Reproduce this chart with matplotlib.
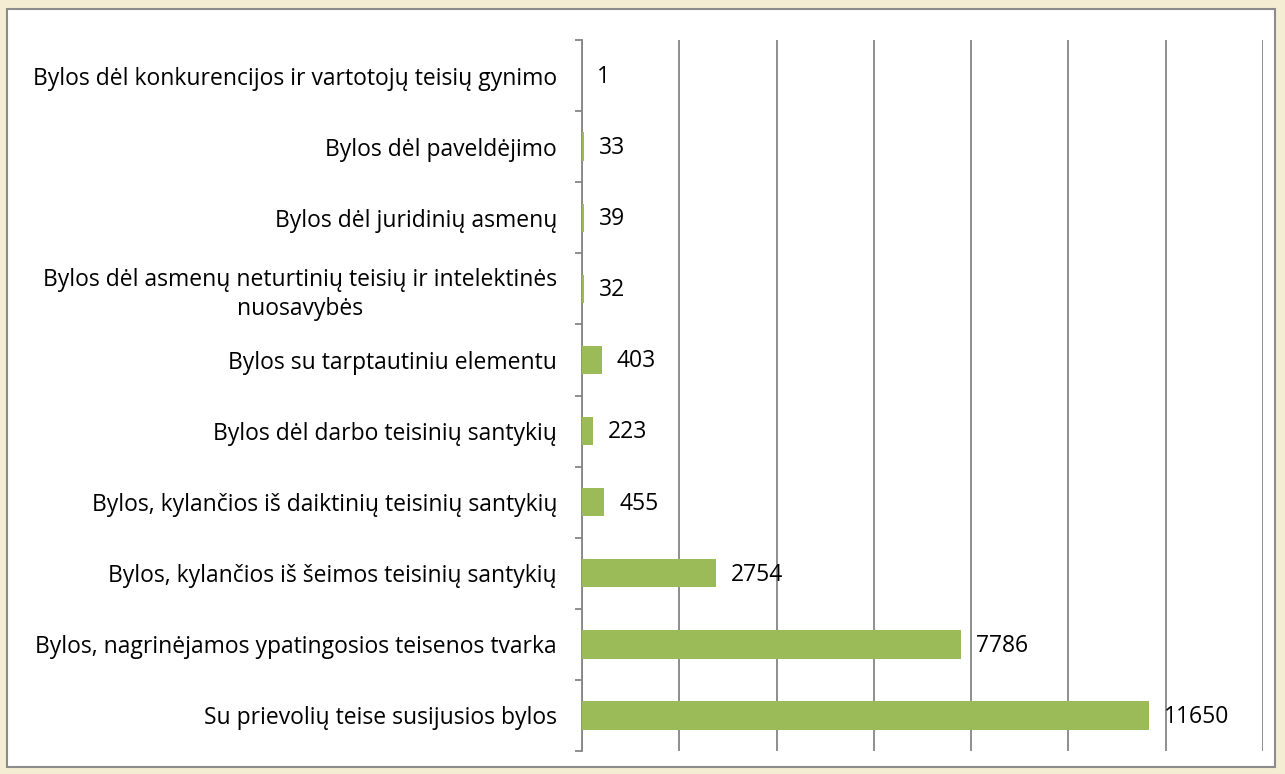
import numpy as np
import matplotlib.pyplot as plt
from matplotlib.patches import Rectangle

plt.rcParams['font.family'] = ['Open Sans', 'DejaVu Sans']

# data, bottom to top
categories = [
    'Su prievolių teise susijusios bylos',
    'Bylos, nagrinėjamos ypatingosios teisenos tvarka',
    'Bylos, kylančios iš šeimos teisinių santykių',
    'Bylos, kylančios iš daiktinių teisinių santykių',
    'Bylos dėl darbo teisinių santykių',
    'Bylos su tarptautiniu elementu',
    'Bylos dėl asmenų neturtinių teisių ir intelektinės\nnuosavybės',
    'Bylos dėl juridinių asmenų',
    'Bylos dėl paveldėjimo',
    'Bylos dėl konkurencijos ir vartotojų teisių gynimo',
]
values = [11650, 7786, 2754, 455, 223, 403, 32, 39, 33, 1]

fig = plt.figure(figsize=(12.85, 7.74), dpi=100)
fig.patch.set_facecolor('#F5ECD4')

# white chart area with gray border
fig.patches.append(Rectangle((7 / 1285, 7 / 774), 1268 / 1285, 758 / 774,
                             transform=fig.transFigure, facecolor='white',
                             edgecolor='#8C8C8C', linewidth=1.5, zorder=-5))

ax = fig.add_axes([582 / 1285, 23 / 774, 681 / 1285, 711 / 774])
ax.set_zorder(2)
ax.set_facecolor('none')

fs = 16.5

y = np.arange(len(categories))
ax.barh(y, values, height=0.4, color='#9BBB59', zorder=3)

for yi, v in zip(y, values):
    ax.annotate(str(v), (v, yi), xytext=(11, -1), textcoords='offset points',
                va='center', ha='left', fontsize=fs, color='black', zorder=4)

ax.set_xlim(0, 14000)
ax.set_ylim(-0.5, len(categories) - 0.5)
ax.set_xticks(np.arange(0, 14001, 2000))
ax.tick_params(axis='x', length=0, labelbottom=False)
ax.grid(axis='x', color='#868686', linewidth=1.3, zorder=1)

ax.set_yticks(y)
ax.set_yticklabels(categories, fontsize=fs)
for lbl in ax.get_yticklabels():
    lbl.set_horizontalalignment('right')
    lbl.set_multialignment('center')
    lbl.set_linespacing(1.3)
ax.tick_params(axis='y', which='major', length=0, pad=18)
ax.set_yticks(np.arange(-0.5, len(categories), 1), minor=True)
ax.tick_params(axis='y', which='minor', length=5, width=1.3, color='#868686')

for s in ['top', 'right', 'bottom']:
    ax.spines[s].set_visible(False)
ax.spines['left'].set_color('#868686')
ax.spines['left'].set_linewidth(1.3)

fig.savefig('out.png', dpi=100, facecolor=fig.get_facecolor())
